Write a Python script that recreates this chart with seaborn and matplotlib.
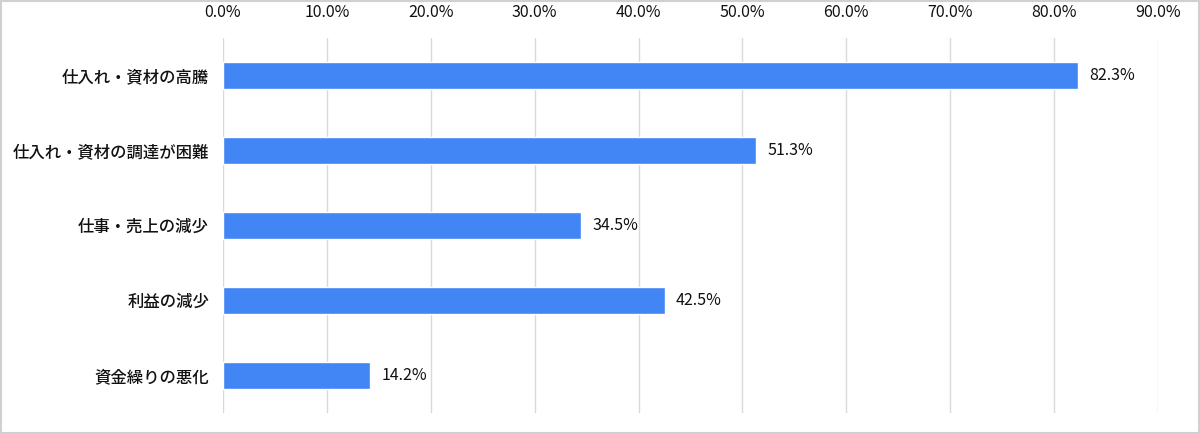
import matplotlib
matplotlib.use("Agg")
import matplotlib.pyplot as plt
import seaborn as sns
import pandas as pd
from matplotlib.ticker import FuncFormatter

# === データ ===================================================================
categories = ["仕入れ・資材の高騰", "仕入れ・資材の調達が困難", "仕事・売上の減少",
              "利益の減少", "資金繰りの悪化"]
values = [82.3, 51.3, 34.5, 42.5, 14.2]
x_ticks = [0, 10, 20, 30, 40, 50, 60, 70, 80, 90]

df = pd.DataFrame({"category": categories, "value": values})

# === スタイル =================================================================
sns.set_theme(style="white")
plt.rcParams["font.family"] = ["Noto Sans CJK JP", "DejaVu Sans"]

fig = plt.figure(figsize=(12, 4.34), dpi=100)
ax = fig.add_axes([0.1858, 0.0484, 0.965 - 0.1858, 0.9124 - 0.0484])

sns.barplot(data=df, x="value", y="category", orient="h",
            color="#4285F4", saturation=1, width=0.35, ax=ax)

ax.set_xlim(0, 90)
ax.set_ylim(4.5, -0.5)
ax.set_xticks(x_ticks)
ax.xaxis.set_major_formatter(FuncFormatter(lambda v, _: f"{v:.1f}%"))
ax.xaxis.tick_top()
ax.tick_params(axis="x", length=0, pad=12, labelsize=11.5, colors="#111111")
ax.tick_params(axis="y", length=0, pad=10, labelsize=11.8, colors="#111111")
for lbl in ax.get_yticklabels():
    lbl.set_fontweight("medium")
ax.grid(axis="x", color="#d9d9d9", linewidth=1)
ax.set_axisbelow(True)
for s in ax.spines.values():
    s.set_visible(False)
ax.set_xlabel("")
ax.set_ylabel("")

ax.bar_label(ax.containers[0], labels=[f"{v:.1f}%" for v in values],
             padding=8, fontsize=11.5, color="#111111")

# 外枠
fig.patches.append(plt.Rectangle((0.001, 0.002), 0.998, 0.996, transform=fig.transFigure,
                                 fill=False, edgecolor="#d0d0d0", linewidth=1.5))

fig.savefig("out.png", dpi=100)
